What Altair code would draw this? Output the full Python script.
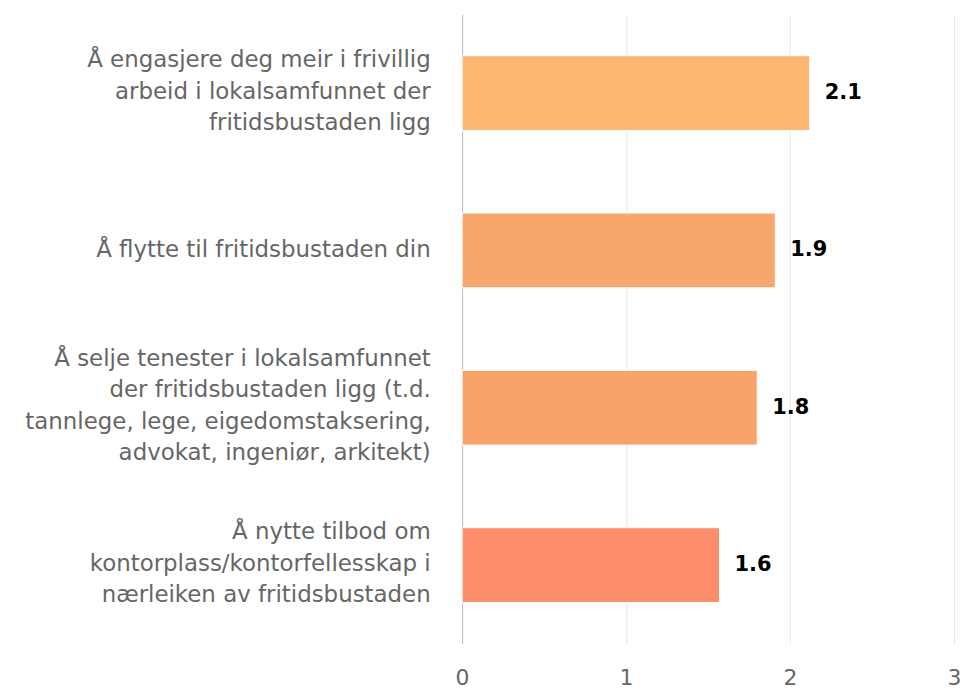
import altair as alt
import pandas as pd

categories = [
    "Å engasjere deg meir i frivillig|arbeid i lokalsamfunnet der|fritidsbustaden ligg",
    "Å flytte til fritidsbustaden din",
    "Å selje tenester i lokalsamfunnet|der fritidsbustaden ligg (t.d.|tannlege, lege, eigedomstaksering,|advokat, ingeniør, arkitekt)",
    "Å nytte tilbod om|kontorplass/kontorfellesskap i|nærleiken av fritidsbustaden",
]
values = [2.12, 1.91, 1.80, 1.57]
colors = ["#FBB66F", "#F9A66C", "#F9A36B", "#FE8D69"]
x_ticks = [0, 1, 2, 3]

df = pd.DataFrame({"cat": categories, "value": values, "color": colors})

FONT = "DejaVu Sans"

label_offset = {
    "condition": [
        {"test": "length(split(datum.value, '|')) == 4", "value": -49},
        {"test": "length(split(datum.value, '|')) == 3", "value": -33},
    ],
    "value": 0,
}

y_enc = alt.Y(
    "cat:N",
    sort=categories,
    title=None,
    scale=alt.Scale(paddingInner=0.525, paddingOuter=0.2625),
    axis=alt.Axis(
        labelExpr="split(datum.label, '|')",
        labelFont=FONT,
        labelFontSize=23,
        labelColor="#666666",
        labelAlign="right",
        labelBaseline="middle",
        labelLineHeight=31.5,
        labelPadding=32,
        labelLimit=600,
        labelOffset=label_offset,
        minExtent=449,
        maxExtent=449,
        ticks=False,
        grid=False,
        domain=True,
        domainColor="#bdbdbd",
        domainWidth=1,
    ),
)

x_enc = alt.X(
    "value:Q",
    title=None,
    scale=alt.Scale(domain=[0, 3], nice=False),
    axis=alt.Axis(
        values=x_ticks,
        format="d",
        labelFont=FONT,
        labelFontSize=22,
        labelColor="#666666",
        labelPadding=24,
        labelFlush=False,
        ticks=False,
        domain=False,
        grid=True,
        gridColor="#e6e6e6",
        gridWidth=1,
    ),
)

bars = alt.Chart(df).mark_bar(stroke="white", strokeWidth=1).encode(
    x=x_enc,
    y=y_enc,
    color=alt.Color("color:N", scale=None),
)

text = alt.Chart(df).mark_text(
    align="left", baseline="middle", dx=15, font=FONT, fontSize=21,
    fontWeight="bold", color="#000000",
).encode(
    x="value:Q",
    y=alt.Y("cat:N", sort=categories),
    text=alt.Text("value:Q", format=".1f"),
)

chart = (bars + text).properties(
    width=494,
    height=632,
    padding={"left": 7, "top": 5, "right": 0, "bottom": 0},
    background="white",
).configure_view(stroke=None)

chart.save("out.html", embed_options={"renderer": "svg", "actions": False})
